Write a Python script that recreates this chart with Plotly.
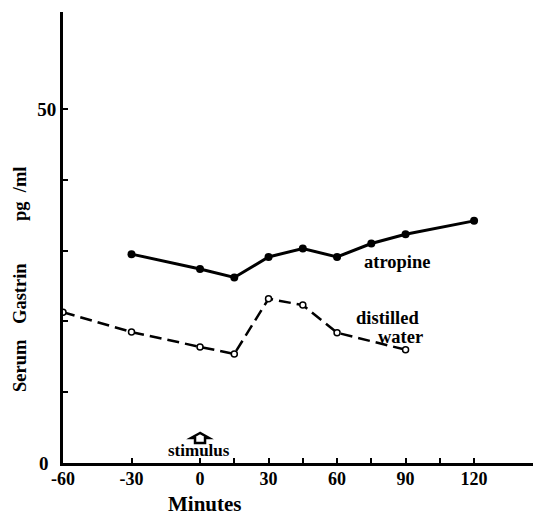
import plotly.graph_objects as go

# Data (minutes vs serum gastrin pg/ml)
atropine_min = [-30, 0, 15, 30, 45, 60, 75, 90, 120]
atropine_val = [29.5, 27.4, 26.2, 29.1, 30.3, 29.1, 31.0, 32.3, 34.2]

water_min = [-60, -30, 0, 15, 30, 45, 60, 90]
water_val = [21.3, 18.5, 16.4, 15.4, 23.2, 22.3, 18.4, 16.0]

x_tickvals = [-60, -30, 0, 15, 30, 45, 60, 75, 90, 105, 120]
x_ticktext = ["-60", "-30", "0", "", "30", "", "60", "", "90", "", "120"]
y_tickvals = [0, 10, 20, 30, 40, 50]
y_ticktext = ["0\u2009\u2009", "", "", "", "", "50"]

FONT = "Liberation Serif"

fig = go.Figure()
fig.add_trace(go.Scatter(
    x=atropine_min, y=atropine_val, mode="lines+markers",
    line=dict(color="black", width=3),
    marker=dict(color="black", size=8, symbol="circle"),
    name="atropine", showlegend=False,
))
fig.add_trace(go.Scatter(
    x=water_min, y=water_val, mode="lines+markers",
    line=dict(color="black", width=2.5, dash="12px,6px"),
    marker=dict(color="white", size=6, symbol="circle",
                line=dict(color="black", width=1.5)),
    name="distilled water", showlegend=False,
))

# page body has an 8px margin; figure is sized to fit the window after it
fig.update_layout(
    width=533, height=507,
    margin=dict(l=55, r=0, t=4, b=52),
    paper_bgcolor="white", plot_bgcolor="white",
    font=dict(family=FONT, size=16, color="black"),
    xaxis=dict(
        range=[-60, 149.3], showgrid=False, zeroline=False,
        showline=True, linecolor="black", linewidth=3,
        tickmode="array", tickvals=x_tickvals, ticktext=x_ticktext,
        ticks="inside", ticklen=5, tickwidth=2, tickcolor="black",
        ticklabelstandoff=-3,
        tickfont=dict(family=FONT, size=18, color="black", weight="bold"),
    ),
    yaxis=dict(
        range=[0, 63.7], showgrid=False, zeroline=False,
        showline=True, linecolor="black", linewidth=3,
        tickmode="array", tickvals=y_tickvals, ticktext=y_ticktext,
        ticks="inside", ticklen=5, tickwidth=2, tickcolor="black",
        tickfont=dict(family=FONT, size=19, color="black", weight="bold"),
    ),
)

# convert window pixel positions to paper coords (plot area 63..541 x 12..463)
def px_x(px):
    return (px - 63) / (541 - 63)

def px_y(py):
    return (463 - py) / (463 - 12)

labels = [
    (397, 262, "atropine", 18.5),
    (387, 318, "distilled", 18.5),
    (400, 337, "water", 18.5),
    (199, 450, "stimulus", 17),
]
for x, y, txt, sz in labels:
    fig.add_annotation(x=px_x(x), y=px_y(y), xref="paper", yref="paper",
                       xanchor="center", yanchor="middle",
                       text=txt, showarrow=False,
                       font=dict(family=FONT, size=sz, color="black", weight="bold"))

# axis titles
fig.add_annotation(x=px_x(205), y=px_y(504), xref="paper", yref="paper",
                   xanchor="center", yanchor="middle",
                   text="Minutes", showarrow=False,
                   font=dict(family=FONT, size=21, color="black", weight="bold"))
for txt, py in [("Serum", 366), ("Gastrin", 294), ("pg\u00a0\u00a0/ml", 194)]:
    fig.add_annotation(x=px_x(20), y=px_y(py), xref="paper", yref="paper",
                       xanchor="center", yanchor="middle",
                       text=txt, textangle=-90, showarrow=False,
                       font=dict(family=FONT, size=18.5, color="black", weight="bold"))

# stimulus arrow (house-shaped outline) anchored at time 0
fig.add_shape(type="path", xref="x", yref="paper",
              xsizemode="pixel", ysizemode="pixel",
              xanchor=0, yanchor=px_y(438),
              path="M0,5 L-9,0 L-5,0 L-5,-5 L5,-5 L5,0 L9,0 Z",
              line=dict(color="black", width=2.5), fillcolor="white")

fig.write_html("out.html")
